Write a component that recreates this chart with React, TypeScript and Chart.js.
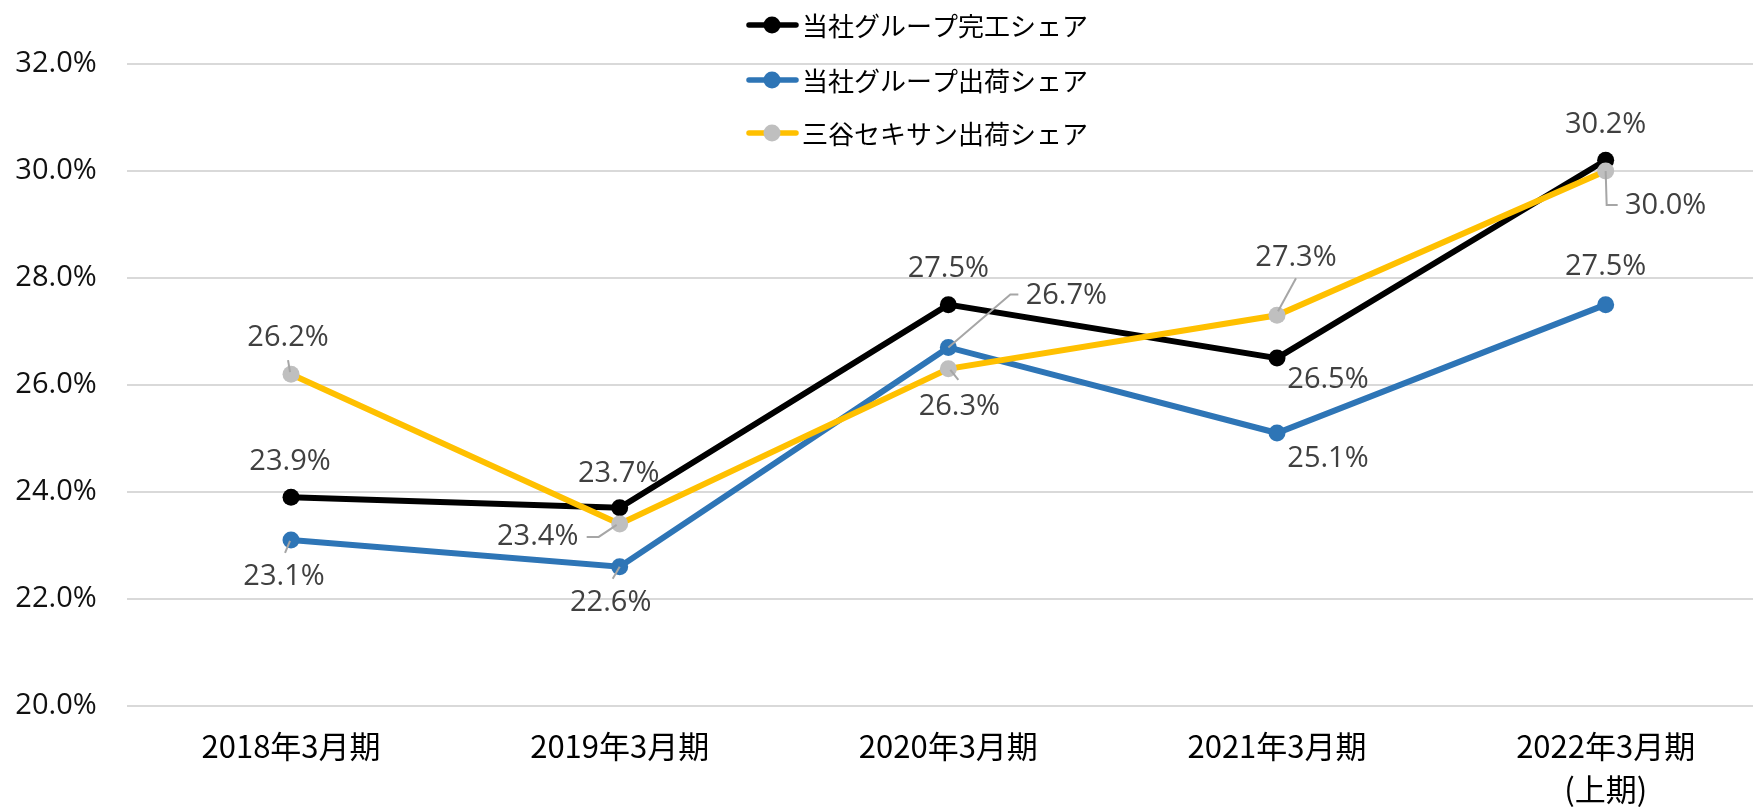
import React, { useEffect, useRef } from "react";
import { Chart, registerables } from "chart.js";

Chart.register(...registerables);

const categories: (string | string[])[] = [
  "2018年3月期",
  "2019年3月期",
  "2020年3月期",
  "2021年3月期",
  ["2022年3月期", "(上期)"],
];

const seriesNames = ["当社グループ完工シェア", "当社グループ出荷シェア", "三谷セキサン出荷シェア"];

const groupCompletionShare = [23.9, 23.7, 27.5, 26.5, 30.2];
const groupShipmentShare = [23.1, 22.6, 26.7, 25.1, 27.5];
const mitaniShipmentShare = [26.2, 23.4, 26.3, 27.3, 30.0];

const yTicks = [20, 22, 24, 26, 28, 30, 32];

// label placement (offset from point) and optional leader polylines (relative to point)
type LabelSpec = { dx: number; dy: number; leader?: number[][] };
const blackLabels: LabelSpec[] = [
  { dx: -1, dy: -35 },
  { dx: -1, dy: -34 },
  { dx: 0, dy: -36 },
  { dx: 51, dy: 22 },
  { dx: 0, dy: -36 },
];
const blueLabels: LabelSpec[] = [
  { dx: -7, dy: 37, leader: [[-1, 1], [-6, 13]] },
  { dx: -9, dy: 36, leader: [[0, 0], [-7, 12]] },
  { dx: 118, dy: -52, leader: [[0, 0], [62, -53], [70, -53]] },
  { dx: 51, dy: 26 },
  { dx: 0, dy: -38 },
];
const grayLabels: LabelSpec[] = [
  { dx: -3, dy: -36, leader: [[-1, -2], [-3, -14]] },
  { dx: -82, dy: 13, leader: [[-3, 1], [-21, 13], [-33, 13]] },
  { dx: 11, dy: 38, leader: [[2, 1], [10, 11]] },
  { dx: 19, dy: -58, leader: [[1, -4], [19, -37]] },
  { dx: 60, dy: 35, leader: [[0, 0], [1, 34], [12, 34]] },
];

const seriesLabels = [blackLabels, blueLabels, grayLabels];

const labelPlugin = {
  id: "dataLabels",
  afterDatasetsDraw(chart: any) {
    const ctx = chart.ctx;
    ctx.save();
    chart.data.datasets.forEach((ds: any, di: number) => {
      const meta = chart.getDatasetMeta(di);
      const specs = seriesLabels[di];
      meta.data.forEach((pt: any, i: number) => {
        const s = specs[i];
        const v = ds.data[i] as number;
        if (s.leader) {
          ctx.strokeStyle = "#a6a6a6";
          ctx.lineWidth = 2;
          ctx.beginPath();
          s.leader.forEach((p, k) => {
            if (k === 0) ctx.moveTo(pt.x + p[0], pt.y + p[1]);
            else ctx.lineTo(pt.x + p[0], pt.y + p[1]);
          });
          ctx.stroke();
        }
        ctx.fillStyle = "#404040";
        ctx.font = "29px 'Open Sans'";
        ctx.textAlign = "center";
        ctx.textBaseline = "middle";
        ctx.fillText(v.toFixed(1) + "%", pt.x + s.dx, pt.y + s.dy);
      });
    });
    ctx.restore();
  },
};

const legendPlugin = {
  id: "customLegend",
  afterDraw(chart: any) {
    const ctx = chart.ctx;
    const rows = [25, 80, 133];
    ctx.save();
    chart.data.datasets.forEach((ds: any, di: number) => {
      const y = rows[di];
      ctx.strokeStyle = ds.borderColor;
      ctx.lineWidth = 5.5;
      ctx.lineCap = "round";
      ctx.beginPath();
      ctx.moveTo(749, y);
      ctx.lineTo(796, y);
      ctx.stroke();
      ctx.fillStyle = ds.pointBackgroundColor;
      ctx.beginPath();
      ctx.arc(772, y, 8.5, 0, Math.PI * 2);
      ctx.fill();
      ctx.fillStyle = "#000000";
      ctx.font = "26px 'Noto Sans CJK JP'";
      ctx.textAlign = "left";
      ctx.textBaseline = "middle";
      ctx.fillText(seriesNames[di], 802, y + 1);
    });
    ctx.restore();
  },
};

export default function App() {
  const ref = useRef<HTMLCanvasElement | null>(null);

  useEffect(() => {
    if (!ref.current) return;
    const chart = new Chart(ref.current, {
      type: "line",
      data: {
        labels: categories,
        datasets: [
          {
            label: seriesNames[0],
            data: groupCompletionShare,
            borderColor: "#000000",
            backgroundColor: "#000000",
            pointBackgroundColor: "#000000",
            borderWidth: 6,
            pointRadius: 8.5,
            pointBorderWidth: 0,
            order: 2,
          },
          {
            label: seriesNames[1],
            data: groupShipmentShare,
            borderColor: "#2e75b6",
            backgroundColor: "#2e75b6",
            pointBackgroundColor: "#2e75b6",
            borderWidth: 6,
            pointRadius: 8.5,
            pointBorderWidth: 0,
            order: 1,
          },
          {
            label: seriesNames[2],
            data: mitaniShipmentShare,
            borderColor: "#ffc000",
            backgroundColor: "#bfbfbf",
            pointBackgroundColor: "#bfbfbf",
            borderWidth: 6,
            pointRadius: 8.5,
            pointBorderWidth: 0,
            order: 0,
          },
        ],
      },
      options: {
        animation: false,
        responsive: false,
        maintainAspectRatio: false,
        layout: { padding: { top: 64, right: 10, bottom: 0, left: 0 } },
        plugins: {
          legend: { display: false },
          tooltip: { enabled: false },
        },
        scales: {
          x: {
            type: "category",
            offset: true,
            grid: { display: false, drawTicks: false },
            border: { display: false },
            ticks: {
              color: "#000000",
              font: { family: "'Noto Sans CJK JP'", size: 31, lineHeight: 1.39 },
              padding: 19,
              maxRotation: 0,
              autoSkip: false,
            },
            afterFit: (s: any) => {
              s.height = 102.3;
            },
          },
          y: {
            min: 20,
            max: 32,
            afterBuildTicks: (s: any) => {
              s.ticks = yTicks.map((v) => ({ value: v }));
            },
            grid: { color: "#d9d9d9", lineWidth: 2, drawTicks: false },
            border: { display: false },
            ticks: {
              color: "#111111",
              font: { family: "'Open Sans'", size: 29 },
              padding: 30,
              callback: (v: any) => Number(v).toFixed(1) + "%",
            },
            afterFit: (s: any) => {
              s.width = 126.7;
            },
          },
        },
      },
      plugins: [labelPlugin, legendPlugin],
    });
    return () => chart.destroy();
  }, []);

  return (
    <div
      style={{
        position: "fixed",
        left: 0,
        top: 0,
        width: 1753,
        height: 808,
        overflow: "hidden",
        background: "#ffffff",
      }}
    >
      <canvas ref={ref} width={1780} height={808} style={{ display: "block" }} />
    </div>
  );
}
